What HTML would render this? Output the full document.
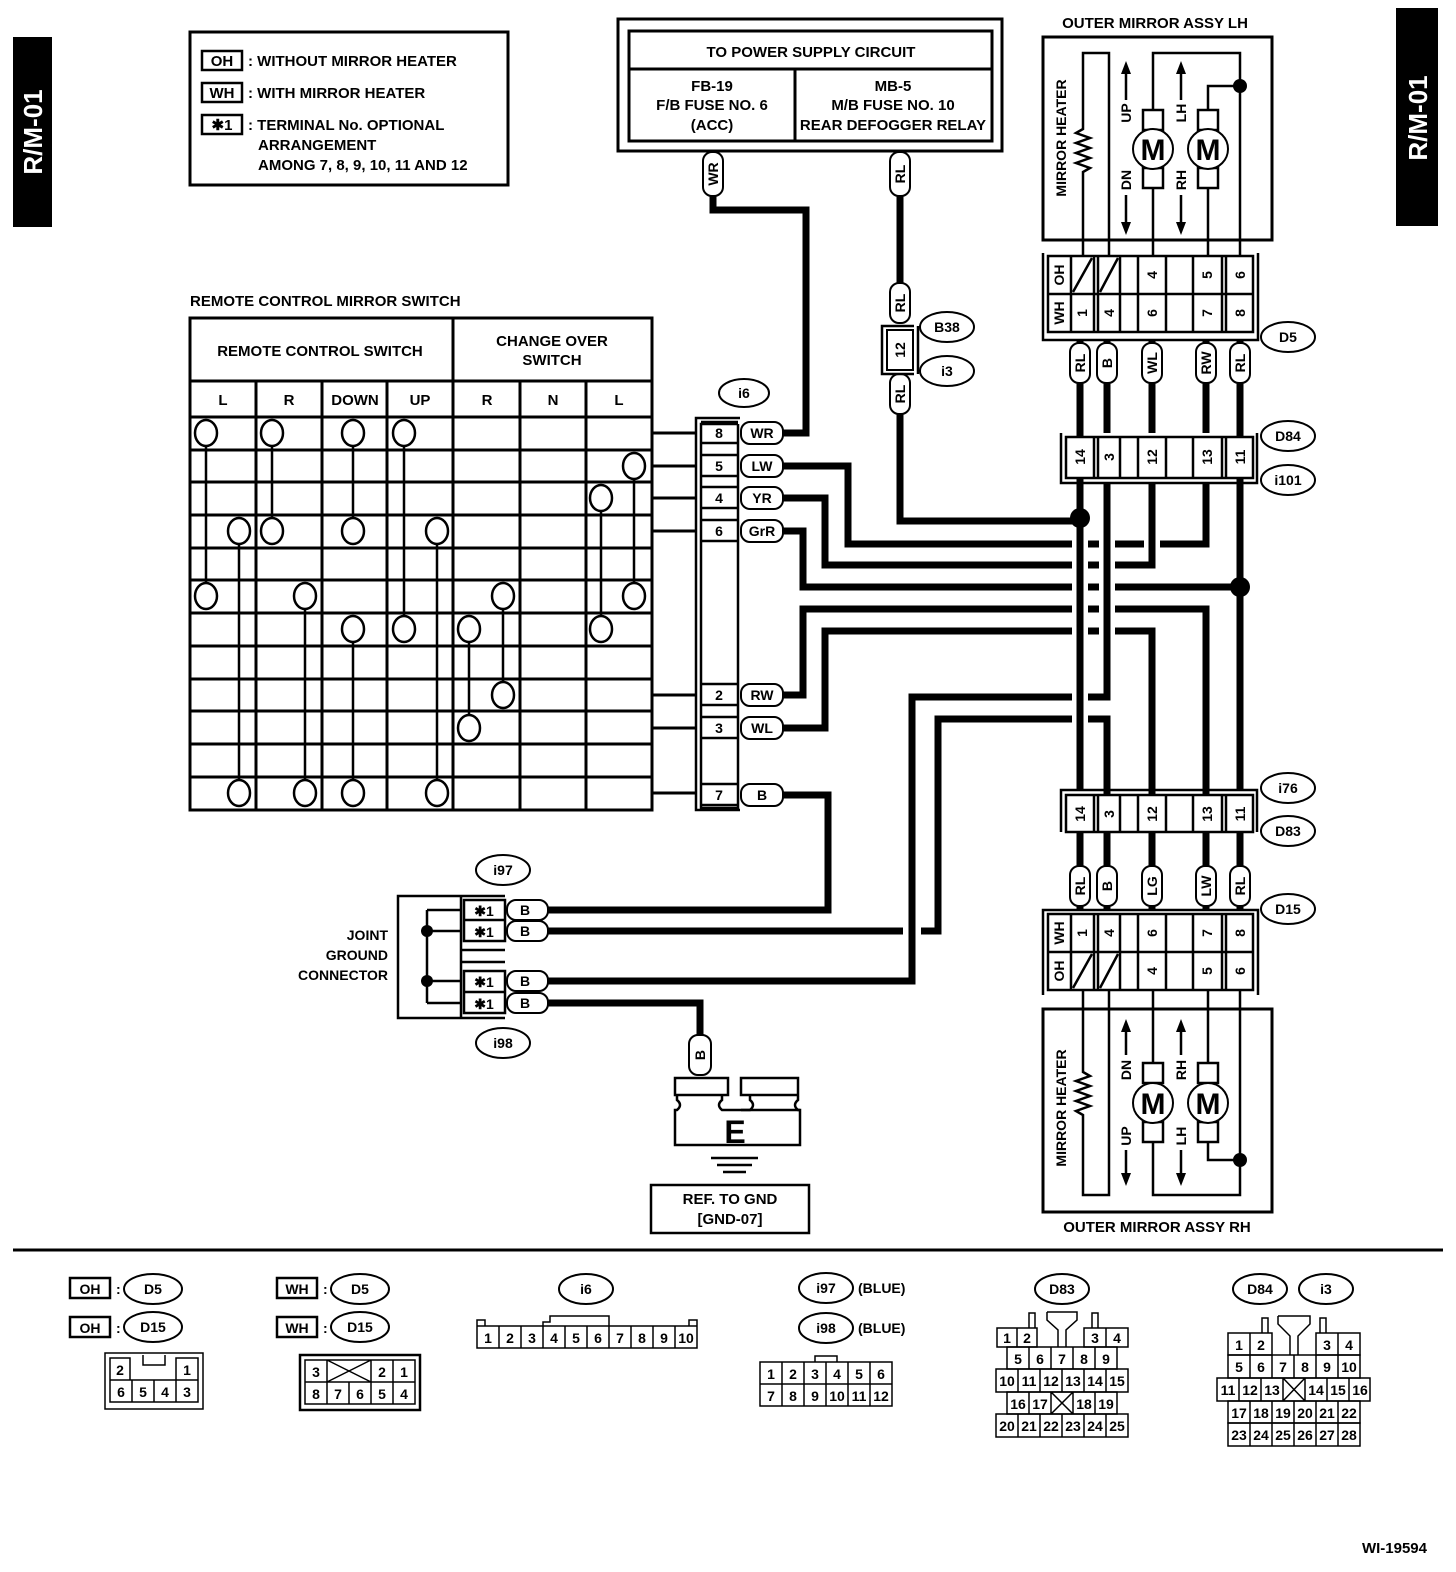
<!DOCTYPE html>
<html><head><meta charset="utf-8"><style>
html,body{margin:0;padding:0;background:#fff}
svg{display:block}
text{font-family:"Liberation Sans",Arial,sans-serif;font-weight:bold;fill:#000}
.s{stroke:#000;fill:none}
.w{fill:#fff;stroke:#000;stroke-width:2}
.c{text-anchor:middle}
</style></head><body>
<svg width="1456" height="1572" viewBox="0 0 1456 1572" xmlns="http://www.w3.org/2000/svg">
<rect width="1456" height="1572" fill="#fff"/>
<!-- side tabs -->
<rect x="13" y="37" width="39" height="190" fill="#000"/>
<text transform="translate(42,132) rotate(-90)" class="c" style="fill:#fff;font-size:26px">R/M-01</text>
<rect x="1396" y="8" width="42" height="218" fill="#000"/>
<text transform="translate(1427,118) rotate(-90)" class="c" style="fill:#fff;font-size:26px">R/M-01</text>

<!-- legend -->
<rect x="190" y="32" width="318" height="153" class="s" stroke-width="3"/>
<g font-size="15">
<rect x="202" y="51" width="40" height="19" class="s" stroke-width="2.5"/><text x="222" y="66" class="c">OH</text>
<text x="248" y="66">: WITHOUT MIRROR HEATER</text>
<rect x="202" y="83" width="40" height="19" class="s" stroke-width="2.5"/><text x="222" y="98" class="c">WH</text>
<text x="248" y="98">: WITH MIRROR HEATER</text>
<rect x="202" y="115" width="40" height="19" class="s" stroke-width="2.5"/><text x="222" y="130" class="c">✱1</text>
<text x="248" y="130">: TERMINAL No. OPTIONAL</text>
<text x="258" y="150">ARRANGEMENT</text>
<text x="258" y="170">AMONG 7, 8, 9, 10, 11 AND 12</text>
</g>

<!-- power supply box -->
<rect x="618" y="19" width="384" height="132" class="s" stroke-width="3"/>
<rect x="629" y="31" width="363" height="110" class="s" stroke-width="3"/>
<line x1="629" y1="69" x2="992" y2="69" class="s" stroke-width="3"/>
<line x1="795" y1="69" x2="795" y2="141" class="s" stroke-width="3"/>
<g font-size="15" class="c">
<text x="811" y="57" class="c">TO POWER SUPPLY CIRCUIT</text>
<text x="712" y="91" class="c">FB-19</text><text x="712" y="110" class="c">F/B FUSE NO. 6</text><text x="712" y="130" class="c">(ACC)</text>
<text x="893" y="91" class="c">MB-5</text><text x="893" y="110" class="c">M/B FUSE NO. 10</text><text x="893" y="130" class="c">REAR DEFOGGER RELAY</text>
</g>

<!-- switch table -->
<text x="190" y="306" font-size="15">REMOTE CONTROL MIRROR SWITCH</text>
<g class="s" stroke-width="3">
<rect x="190" y="318" width="462" height="492"/>
<line x1="190" y1="381" x2="652" y2="381"/><line x1="190" y1="417" x2="652" y2="417"/>
<line x1="453" y1="318" x2="453" y2="810"/>
<line x1="256" y1="381" x2="256" y2="810"/><line x1="322" y1="381" x2="322" y2="810"/><line x1="387" y1="381" x2="387" y2="810"/>
<line x1="520" y1="381" x2="520" y2="810"/><line x1="586" y1="381" x2="586" y2="810"/>
<path d="M190 450H652M190 482H652M190 515H652M190 548H652M190 580H652M190 613H652M190 646H652M190 679H652M190 711H652M190 744H652M190 777H652"/>
<path d="M652 433H696M652 466H696M652 498H696M652 531H696M652 695H696M652 728H696M652 793H696"/>
</g>
<g font-size="15">
<text x="320" y="356" class="c">REMOTE CONTROL SWITCH</text>
<text x="552" y="346" class="c">CHANGE OVER</text><text x="552" y="365" class="c">SWITCH</text>
<text x="223" y="405" class="c">L</text><text x="289" y="405" class="c">R</text><text x="355" y="405" class="c">DOWN</text><text x="420" y="405" class="c">UP</text>
<text x="487" y="405" class="c">R</text><text x="553" y="405" class="c">N</text><text x="619" y="405" class="c">L</text>
</g>
<g class="s" stroke-width="2.5">
<path d="M206 433V596M272 433V531M353 433V531M404 433V629M634 466V596M601 498V629M239 531V793M437 531V793M305 596V793M503 596V695M353 629V793M469 629V728"/>
</g>
<g fill="#fff" stroke="#000" stroke-width="2.5">
<ellipse cx="206" cy="433" rx="11" ry="13"/><ellipse cx="272" cy="433" rx="11" ry="13"/><ellipse cx="353" cy="433" rx="11" ry="13"/><ellipse cx="404" cy="433" rx="11" ry="13"/>
<ellipse cx="634" cy="466" rx="11" ry="13"/><ellipse cx="601" cy="498" rx="11" ry="13"/>
<ellipse cx="239" cy="531" rx="11" ry="13"/><ellipse cx="272" cy="531" rx="11" ry="13"/><ellipse cx="353" cy="531" rx="11" ry="13"/><ellipse cx="437" cy="531" rx="11" ry="13"/>
<ellipse cx="206" cy="596" rx="11" ry="13"/><ellipse cx="305" cy="596" rx="11" ry="13"/><ellipse cx="503" cy="596" rx="11" ry="13"/><ellipse cx="634" cy="596" rx="11" ry="13"/>
<ellipse cx="353" cy="629" rx="11" ry="13"/><ellipse cx="404" cy="629" rx="11" ry="13"/><ellipse cx="469" cy="629" rx="11" ry="13"/><ellipse cx="601" cy="629" rx="11" ry="13"/>
<ellipse cx="503" cy="695" rx="11" ry="13"/><ellipse cx="469" cy="728" rx="11" ry="13"/>
<ellipse cx="239" cy="793" rx="11" ry="13"/><ellipse cx="305" cy="793" rx="11" ry="13"/><ellipse cx="353" cy="793" rx="11" ry="13"/><ellipse cx="437" cy="793" rx="11" ry="13"/>
</g>

<!-- i6 connector -->
<g class="s" stroke-width="2.5">
<path d="M740 418H696V810H740"/><path d="M738 424H701V808H738V424"/>
<path d="M701 422H738M701 443H738M701 455H738M701 476H738M701 487H738M701 508H738M701 520H738M701 541H738M701 684H738M701 705H738M701 717H738M701 738H738M701 784H738M701 805H738"/>
</g>
<g font-size="14">
<text x="719" y="438" class="c">8</text><text x="719" y="471" class="c">5</text><text x="719" y="503" class="c">4</text><text x="719" y="536" class="c">6</text>
<text x="719" y="700" class="c">2</text><text x="719" y="733" class="c">3</text><text x="719" y="800" class="c">7</text>
</g>
<ellipse cx="744" cy="393" rx="25" ry="14" class="w" stroke-width="2.5"/><text x="744" y="398" font-size="14" class="c">i6</text>

<!-- wires -->
<g class="s" stroke-width="7" stroke-linejoin="miter" stroke-linecap="butt">
<path d="M713 195V210H806V433H780"/>
<path d="M900 195V285M900 410V521H1080"/>
<path d="M780 466H848V544H1206V483"/>
<path d="M780 498H825V565H1152V483"/>
<path d="M780 531H803V587H1240"/>
<path d="M780 695H803V609H1206V795"/>
<path d="M780 728H825V631H1152V795"/>
<path d="M1107 795V719H938V931H545"/>
<path d="M780 795H828V910H545"/>
</g>
<path d="M912 922V940" stroke="#fff" stroke-width="18"/>
<path d="M1107 483V697H912V981H545" class="s" stroke-width="7"/>
<path d="M545 1003H700V1035" class="s" stroke-width="7"/>
<g stroke="#fff" stroke-width="16">
<path d="M1080 530V725"/><path d="M1107 536V640"/><path d="M1152 537V551"/>
</g>
<g class="s" stroke-width="7">
<path d="M1080 340V790M1240 340V790M1107 340V433M1152 340V433M1206 340V433"/>
<path d="M1080 832V910M1107 832V910M1152 832V910M1206 832V910M1240 832V910"/>
<path d="M1107 483V697M1152 483V565M1206 483V544M1107 719V795M1152 631V795M1206 609V795"/>
</g>
<circle cx="1080" cy="518" r="10"/><circle cx="1240" cy="587" r="10"/>

<!-- i6 wire labels -->
<g font-size="14">
<rect x="741" y="422" width="42" height="22" rx="9" class="w"/><text x="762" y="438" class="c">WR</text>
<rect x="741" y="455" width="42" height="22" rx="9" class="w"/><text x="762" y="471" class="c">LW</text>
<rect x="741" y="487" width="42" height="22" rx="9" class="w"/><text x="762" y="503" class="c">YR</text>
<rect x="741" y="520" width="42" height="22" rx="9" class="w"/><text x="762" y="536" class="c">GrR</text>
<rect x="741" y="684" width="42" height="22" rx="9" class="w"/><text x="762" y="700" class="c">RW</text>
<rect x="741" y="717" width="42" height="22" rx="9" class="w"/><text x="762" y="733" class="c">WL</text>
<rect x="741" y="784" width="42" height="22" rx="9" class="w"/><text x="762" y="800" class="c">B</text>
</g>

<!-- vertical wire labels top -->
<g font-size="14">
<g transform="translate(713,174)"><rect x="-10" y="-22" width="20" height="44" rx="9" class="w"/><text transform="rotate(-90)" y="5" class="c">WR</text></g>
<g transform="translate(900,174)"><rect x="-10" y="-22" width="20" height="44" rx="9" class="w"/><text transform="rotate(-90)" y="5" class="c">RL</text></g>
<g transform="translate(900,303)"><rect x="-10" y="-20" width="20" height="40" rx="9" class="w"/><text transform="rotate(-90)" y="5" class="c">RL</text></g>
<g transform="translate(900,394)"><rect x="-10" y="-20" width="20" height="40" rx="9" class="w"/><text transform="rotate(-90)" y="5" class="c">RL</text></g>
</g>
<path d="M914 326H882V374H914M918 326V374" class="s" stroke-width="2.5"/>
<rect x="887" y="330" width="26" height="40" class="w" stroke-width="2.5"/>
<text transform="translate(905,350) rotate(-90)" font-size="14" class="c">12</text>
<g font-size="14">
<ellipse cx="947" cy="327" rx="27" ry="15" class="w" stroke-width="2.5"/><text x="947" y="332" class="c">B38</text>
<ellipse cx="947" cy="371" rx="27" ry="15" class="w" stroke-width="2.5"/><text x="947" y="376" class="c">i3</text>
<ellipse cx="1288" cy="337" rx="27" ry="15" class="w" stroke-width="2.5"/><text x="1288" y="342" class="c">D5</text>
<ellipse cx="1288" cy="436" rx="27" ry="15" class="w" stroke-width="2.5"/><text x="1288" y="441" class="c">D84</text>
<ellipse cx="1288" cy="480" rx="27" ry="15" class="w" stroke-width="2.5"/><text x="1288" y="485" class="c">i101</text>
<ellipse cx="1288" cy="788" rx="27" ry="15" class="w" stroke-width="2.5"/><text x="1288" y="793" class="c">i76</text>
<ellipse cx="1288" cy="831" rx="27" ry="15" class="w" stroke-width="2.5"/><text x="1288" y="836" class="c">D83</text>
<ellipse cx="1288" cy="909" rx="27" ry="15" class="w" stroke-width="2.5"/><text x="1288" y="914" class="c">D15</text>
<ellipse cx="503" cy="870" rx="27" ry="15" class="w" stroke-width="2.5"/><text x="503" y="875" class="c">i97</text>
<ellipse cx="503" cy="1043" rx="27" ry="15" class="w" stroke-width="2.5"/><text x="503" y="1048" class="c">i98</text>
</g>

<!-- Mirror LH -->
<text x="1155" y="28" font-size="15" class="c">OUTER MIRROR ASSY LH</text>
<rect x="1043" y="37" width="229" height="203" class="s" stroke-width="3"/>
<g class="s" stroke-width="2.5">
<path d="M1083 255V172L1090 168L1076 163L1090 158L1076 153L1090 148L1076 143L1090 138L1076 133L1083 129V53H1109V255"/>
<path d="M1153 255V188M1153 110V53H1240V255M1208 255V188M1208 110V86H1240"/>
<rect x="1143" y="110" width="20" height="20"/><rect x="1143" y="168" width="20" height="20"/>
<rect x="1198" y="110" width="20" height="20"/><rect x="1198" y="168" width="20" height="20"/>
<path d="M1126 100V72M1126 195V224M1181 100V72M1181 195V224"/>
</g>
<circle cx="1153" cy="149" r="20" class="w" stroke-width="2.5"/><circle cx="1208" cy="149" r="20" class="w" stroke-width="2.5"/>
<text x="1153" y="160" font-size="30" class="c">M</text><text x="1208" y="160" font-size="30" class="c">M</text>
<circle cx="1240" cy="86" r="7"/>
<path d="M1121 74L1126 61L1131 74ZM1121 222L1126 235L1131 222ZM1176 74L1181 61L1186 74ZM1176 222L1181 235L1186 222Z"/>
<g font-size="14">
<text transform="translate(1066,138) rotate(-90)" class="c">MIRROR HEATER</text>
<text transform="translate(1131,113) rotate(-90)" class="c">UP</text>
<text transform="translate(1131,180) rotate(-90)" class="c">DN</text>
<text transform="translate(1186,113) rotate(-90)" class="c">LH</text>
<text transform="translate(1186,180) rotate(-90)" class="c">RH</text>
</g>

<!-- D5 connector -->
<g class="s" stroke-width="2.5">
<path d="M1043 253V340H1258V253"/>
<rect x="1048" y="256" width="205" height="76"/>
<path d="M1048 294H1253M1071 256V332M1094 256V332M1098 256V332M1120 256V332M1138 256V332M1166 256V332M1193 256V332M1222 256V332M1226 256V332"/>
<path d="M1073 292L1092 258M1100 292L1118 258"/>
</g>
<g font-size="14">
<text transform="translate(1064,275) rotate(-90)" class="c">OH</text><text transform="translate(1064,313) rotate(-90)" class="c">WH</text>
<text transform="translate(1157,275) rotate(-90)" class="c">4</text><text transform="translate(1212,275) rotate(-90)" class="c">5</text><text transform="translate(1245,275) rotate(-90)" class="c">6</text>
<text transform="translate(1087,313) rotate(-90)" class="c">1</text><text transform="translate(1114,313) rotate(-90)" class="c">4</text><text transform="translate(1157,313) rotate(-90)" class="c">6</text><text transform="translate(1212,313) rotate(-90)" class="c">7</text><text transform="translate(1245,313) rotate(-90)" class="c">8</text>
</g>
<g font-size="14">
<g transform="translate(1080,363)"><rect x="-10" y="-20" width="20" height="40" rx="9" class="w"/><text transform="rotate(-90)" y="5" class="c">RL</text></g>
<g transform="translate(1107,363)"><rect x="-10" y="-20" width="20" height="40" rx="9" class="w"/><text transform="rotate(-90)" y="5" class="c">B</text></g>
<g transform="translate(1152,363)"><rect x="-10" y="-20" width="20" height="40" rx="9" class="w"/><text transform="rotate(-90)" y="5" class="c">WL</text></g>
<g transform="translate(1206,363)"><rect x="-10" y="-20" width="20" height="40" rx="9" class="w"/><text transform="rotate(-90)" y="5" class="c">RW</text></g>
<g transform="translate(1240,363)"><rect x="-10" y="-20" width="20" height="40" rx="9" class="w"/><text transform="rotate(-90)" y="5" class="c">RL</text></g>
</g>

<!-- D84 -->
<g class="s" stroke-width="2.5">
<path d="M1061 433V483H1257V433" />
<rect x="1066" y="437" width="187" height="41" fill="#fff"/>
<path d="M1094 437V478M1098 437V478M1120 437V478M1138 437V478M1166 437V478M1193 437V478M1222 437V478M1226 437V478"/>
</g>
<g font-size="14">
<text transform="translate(1085,457) rotate(-90)" class="c">14</text><text transform="translate(1114,457) rotate(-90)" class="c">3</text><text transform="translate(1157,457) rotate(-90)" class="c">12</text><text transform="translate(1212,457) rotate(-90)" class="c">13</text><text transform="translate(1245,457) rotate(-90)" class="c">11</text>
</g>
<!-- D83 -->
<g class="s" stroke-width="2.5">
<path d="M1061 832V790H1257V832"/>
<rect x="1066" y="795" width="187" height="37" fill="#fff"/>
<path d="M1094 795V832M1098 795V832M1120 795V832M1138 795V832M1166 795V832M1193 795V832M1222 795V832M1226 795V832"/>
</g>
<g font-size="14">
<text transform="translate(1085,814) rotate(-90)" class="c">14</text><text transform="translate(1114,814) rotate(-90)" class="c">3</text><text transform="translate(1157,814) rotate(-90)" class="c">12</text><text transform="translate(1212,814) rotate(-90)" class="c">13</text><text transform="translate(1245,814) rotate(-90)" class="c">11</text>
</g>
<g font-size="14">
<g transform="translate(1080,886)"><rect x="-10" y="-20" width="20" height="40" rx="9" class="w"/><text transform="rotate(-90)" y="5" class="c">RL</text></g>
<g transform="translate(1107,886)"><rect x="-10" y="-20" width="20" height="40" rx="9" class="w"/><text transform="rotate(-90)" y="5" class="c">B</text></g>
<g transform="translate(1152,886)"><rect x="-10" y="-20" width="20" height="40" rx="9" class="w"/><text transform="rotate(-90)" y="5" class="c">LG</text></g>
<g transform="translate(1206,886)"><rect x="-10" y="-20" width="20" height="40" rx="9" class="w"/><text transform="rotate(-90)" y="5" class="c">LW</text></g>
<g transform="translate(1240,886)"><rect x="-10" y="-20" width="20" height="40" rx="9" class="w"/><text transform="rotate(-90)" y="5" class="c">RL</text></g>
</g>

<!-- D15 -->
<g class="s" stroke-width="2.5">
<path d="M1043 995V910H1258V995"/>
<rect x="1048" y="914" width="205" height="76" fill="#fff"/>
<path d="M1048 952H1253M1071 914V990M1094 914V990M1098 914V990M1120 914V990M1138 914V990M1166 914V990M1193 914V990M1222 914V990M1226 914V990"/>
<path d="M1073 988L1092 954M1100 988L1118 954"/>
</g>
<g font-size="14">
<text transform="translate(1064,933) rotate(-90)" class="c">WH</text><text transform="translate(1064,971) rotate(-90)" class="c">OH</text>
<text transform="translate(1087,933) rotate(-90)" class="c">1</text><text transform="translate(1114,933) rotate(-90)" class="c">4</text><text transform="translate(1157,933) rotate(-90)" class="c">6</text><text transform="translate(1212,933) rotate(-90)" class="c">7</text><text transform="translate(1245,933) rotate(-90)" class="c">8</text>
<text transform="translate(1157,971) rotate(-90)" class="c">4</text><text transform="translate(1212,971) rotate(-90)" class="c">5</text><text transform="translate(1245,971) rotate(-90)" class="c">6</text>
</g>

<!-- Mirror RH -->
<rect x="1043" y="1009" width="229" height="203" class="s" stroke-width="3"/>
<g class="s" stroke-width="2.5">
<path d="M1083 990V1072L1090 1076L1076 1081L1090 1086L1076 1091L1090 1096L1076 1101L1090 1106L1076 1111L1083 1115V1195H1109V990"/>
<path d="M1153 990V1063M1153 1142V1195H1240V990M1208 990V1063M1208 1142V1160H1240"/>
<rect x="1143" y="1063" width="20" height="20"/><rect x="1143" y="1122" width="20" height="20"/>
<rect x="1198" y="1063" width="20" height="20"/><rect x="1198" y="1122" width="20" height="20"/>
<path d="M1126 1055V1030M1126 1150V1175M1181 1055V1030M1181 1150V1175"/>
</g>
<circle cx="1153" cy="1103" r="20" class="w" stroke-width="2.5"/><circle cx="1208" cy="1103" r="20" class="w" stroke-width="2.5"/>
<text x="1153" y="1114" font-size="30" class="c">M</text><text x="1208" y="1114" font-size="30" class="c">M</text>
<circle cx="1240" cy="1160" r="7"/>
<path d="M1121 1032L1126 1019L1131 1032ZM1121 1173L1126 1186L1131 1173ZM1176 1032L1181 1019L1186 1032ZM1176 1173L1181 1186L1186 1173Z"/>
<g font-size="14">
<text transform="translate(1066,1108) rotate(-90)" class="c">MIRROR HEATER</text>
<text transform="translate(1131,1070) rotate(-90)" class="c">DN</text>
<text transform="translate(1131,1136) rotate(-90)" class="c">UP</text>
<text transform="translate(1186,1070) rotate(-90)" class="c">RH</text>
<text transform="translate(1186,1136) rotate(-90)" class="c">LH</text>
</g>
<text x="1157" y="1232" font-size="15" class="c">OUTER MIRROR ASSY RH</text>

<!-- joint ground connector -->
<g class="s" stroke-width="2.5">
<path d="M505 896H398V1018H505"/>
<path d="M461 896V1018"/>
<path d="M427 910H461M427 931H461M427 981H461M427 1003H461M427 910V1003"/>
<rect x="464" y="900" width="41" height="41"/><line x1="464" y1="920" x2="505" y2="920"/>
<rect x="464" y="971" width="41" height="42"/><line x1="464" y1="992" x2="505" y2="992"/>
<path d="M461 950H505M461 962H505"/>
</g>
<circle cx="427" cy="931" r="6"/><circle cx="427" cy="981" r="6"/>
<g font-size="14">
<text x="484" y="916" class="c">✱1</text><text x="484" y="937" class="c">✱1</text><text x="484" y="987" class="c">✱1</text><text x="484" y="1009" class="c">✱1</text>
<rect x="507" y="900" width="41" height="20" rx="9" class="w"/><text x="525" y="915" class="c">B</text>
<rect x="507" y="921" width="41" height="20" rx="9" class="w"/><text x="525" y="936" class="c">B</text>
<rect x="507" y="971" width="41" height="20" rx="9" class="w"/><text x="525" y="986" class="c">B</text>
<rect x="507" y="993" width="41" height="20" rx="9" class="w"/><text x="525" y="1008" class="c">B</text>
<text x="388" y="940" text-anchor="end">JOINT</text><text x="388" y="960" text-anchor="end">GROUND</text><text x="388" y="980" text-anchor="end">CONNECTOR</text>
</g>

<!-- ground -->
<g font-size="14"><g transform="translate(700,1055)"><rect x="-11" y="-20" width="22" height="40" rx="9" class="w"/><text transform="rotate(-90)" y="5" class="c">B</text></g></g>
<g class="s" stroke-width="2.5" fill="#fff">
<rect x="675" y="1078" width="53" height="17" fill="#fff"/><rect x="741" y="1078" width="57" height="17" fill="#fff"/>
<path d="M677 1096V1100Q683 1105 677 1110H675V1145H800V1110H798Q792 1105 798 1100V1096M722 1096V1100Q716 1105 722 1110H750Q756 1105 750 1100V1096"/>
<path d="M741 1110H800"/>
</g>
<text x="735" y="1143" font-size="32" class="c">E</text>
<path d="M711 1158H758M717 1165H752M723 1172H746" class="s" stroke-width="2.5"/>
<rect x="651" y="1185" width="158" height="48" class="s" stroke-width="2.5"/>
<text x="730" y="1204" font-size="15" class="c">REF. TO GND</text><text x="730" y="1224" font-size="15" class="c">[GND-07]</text>

<line x1="13" y1="1250" x2="1443" y2="1250" stroke="#000" stroke-width="3"/>

<!-- bottom connector views -->
<g font-size="14">
<rect x="70" y="1278" width="40" height="20" class="s" stroke-width="2.5"/><text x="90" y="1294" class="c">OH</text><text x="116" y="1294">:</text>
<ellipse cx="153" cy="1289" rx="29" ry="15" class="w" stroke-width="2.5"/><text x="153" y="1294" class="c">D5</text>
<rect x="70" y="1317" width="40" height="20" class="s" stroke-width="2.5"/><text x="90" y="1333" class="c">OH</text><text x="116" y="1333">:</text>
<ellipse cx="153" cy="1327" rx="29" ry="15" class="w" stroke-width="2.5"/><text x="153" y="1332" class="c">D15</text>
<rect x="277" y="1278" width="40" height="20" class="s" stroke-width="2.5"/><text x="297" y="1294" class="c">WH</text><text x="323" y="1294">:</text>
<ellipse cx="360" cy="1289" rx="29" ry="15" class="w" stroke-width="2.5"/><text x="360" y="1294" class="c">D5</text>
<rect x="277" y="1317" width="40" height="20" class="s" stroke-width="2.5"/><text x="297" y="1333" class="c">WH</text><text x="323" y="1333">:</text>
<ellipse cx="360" cy="1327" rx="29" ry="15" class="w" stroke-width="2.5"/><text x="360" y="1332" class="c">D15</text>
<ellipse cx="586" cy="1289" rx="27" ry="15" class="w" stroke-width="2.5"/><text x="586" y="1294" class="c">i6</text>
<ellipse cx="826" cy="1288" rx="27" ry="15" class="w" stroke-width="2.5"/><text x="826" y="1293" class="c">i97</text><text x="858" y="1293">(BLUE)</text>
<ellipse cx="826" cy="1328" rx="27" ry="15" class="w" stroke-width="2.5"/><text x="826" y="1333" class="c">i98</text><text x="858" y="1333">(BLUE)</text>
<ellipse cx="1062" cy="1289" rx="27" ry="15" class="w" stroke-width="2.5"/><text x="1062" y="1294" class="c">D83</text>
<ellipse cx="1260" cy="1289" rx="27" ry="15" class="w" stroke-width="2.5"/><text x="1260" y="1294" class="c">D84</text>
<ellipse cx="1326" cy="1289" rx="27" ry="15" class="w" stroke-width="2.5"/><text x="1326" y="1294" class="c">i3</text>
</g>
<g class="s" stroke-width="1.5" fill="none">
<rect x="105" y="1353" width="98" height="56"/>
<path d="M110 1358H130V1380H110ZM176 1358H198V1380H176ZM143 1355V1365H165V1355M110 1380H198V1402H110ZM132 1380V1402M154 1380V1402M176 1380V1402"/>
<rect x="300" y="1355" width="120" height="55" stroke-width="2.5"/>
<path d="M305 1360H415V1404H305ZM305 1382H415M327 1360V1404M371 1360V1382M393 1360V1404M349 1382V1404M327 1360L371 1382M371 1360L327 1382"/>
<path d="M371 1382V1404"/>
<path d="M477 1326H697V1348H477ZM499 1326V1348M521 1326V1348M543 1326V1348M565 1326V1348M587 1326V1348M609 1326V1348M631 1326V1348M653 1326V1348M675 1326V1348M477 1326V1320H485V1326M689 1326V1320H697V1326M543 1326V1322H550V1316H609V1326"/>
<path d="M760 1362H892V1406H760ZM760 1384H892M782 1362V1406M804 1362V1406M826 1362V1406M848 1362V1406M870 1362V1406M815 1362V1356H837V1362"/>
<path d="M997 1328H1037V1347H997ZM1017 1328V1347M1084 1328H1128V1347H1084ZM1106 1328V1347M1029 1328V1313H1035V1328M1092 1328V1313H1098V1328M1047 1312H1077V1320L1066 1330V1347M1047 1312V1320L1058 1330V1347"/>
<path d="M1007 1347H1117V1369H1007ZM1029 1347V1369M1051 1347V1369M1073 1347V1369M1095 1347V1369"/>
<path d="M996 1369H1128V1392H996ZM1018 1369V1392M1040 1369V1392M1062 1369V1392M1084 1369V1392M1106 1369V1392"/>
<path d="M1007 1392H1117V1414H1007ZM1029 1392V1414M1051 1392V1414M1073 1392V1414M1095 1392V1414M1051 1392L1073 1414M1073 1392L1051 1414"/>
<path d="M996 1414H1128V1437H996ZM1018 1414V1437M1040 1414V1437M1062 1414V1437M1084 1414V1437M1106 1414V1437"/>
<path d="M1228 1333H1272V1355H1228ZM1250 1333V1355M1316 1333H1360V1355H1316ZM1338 1333V1355M1262 1333V1318H1268V1333M1320 1333V1318H1326V1333M1278 1316H1310V1324L1298 1336V1355M1278 1316V1324L1290 1336V1355"/>
<path d="M1228 1355H1360V1378H1228ZM1250 1355V1378M1272 1355V1378M1294 1355V1378M1316 1355V1378M1338 1355V1378"/>
<path d="M1217 1378H1370V1401H1217ZM1239 1378V1401M1261 1378V1401M1283 1378V1401M1305 1378V1401M1327 1378V1401M1349 1378V1401M1283 1378L1305 1401M1305 1378L1283 1401"/>
<path d="M1228 1401H1360V1423H1228ZM1250 1401V1423M1272 1401V1423M1294 1401V1423M1316 1401V1423M1338 1401V1423"/>
<path d="M1228 1423H1360V1446H1228ZM1250 1423V1446M1272 1423V1446M1294 1423V1446M1316 1423V1446M1338 1423V1446"/>
</g>
<g font-size="14" font-weight="normal">
<text x="120" y="1375" class="c" font-weight="normal">2</text><text x="187" y="1375" class="c" font-weight="normal">1</text>
<text x="121" y="1397" class="c" font-weight="normal">6</text><text x="143" y="1397" class="c" font-weight="normal">5</text><text x="165" y="1397" class="c" font-weight="normal">4</text><text x="187" y="1397" class="c" font-weight="normal">3</text>
<text x="316" y="1377" class="c" font-weight="normal">3</text><text x="382" y="1377" class="c" font-weight="normal">2</text><text x="404" y="1377" class="c" font-weight="normal">1</text>
<text x="316" y="1399" class="c" font-weight="normal">8</text><text x="338" y="1399" class="c" font-weight="normal">7</text><text x="360" y="1399" class="c" font-weight="normal">6</text><text x="382" y="1399" class="c" font-weight="normal">5</text><text x="404" y="1399" class="c" font-weight="normal">4</text>
<text x="488" y="1343" class="c" font-weight="normal">1</text><text x="510" y="1343" class="c" font-weight="normal">2</text><text x="532" y="1343" class="c" font-weight="normal">3</text><text x="554" y="1343" class="c" font-weight="normal">4</text><text x="576" y="1343" class="c" font-weight="normal">5</text><text x="598" y="1343" class="c" font-weight="normal">6</text><text x="620" y="1343" class="c" font-weight="normal">7</text><text x="642" y="1343" class="c" font-weight="normal">8</text><text x="664" y="1343" class="c" font-weight="normal">9</text><text x="686" y="1343" class="c" font-weight="normal">10</text>
<text x="771" y="1379" class="c" font-weight="normal">1</text><text x="793" y="1379" class="c" font-weight="normal">2</text><text x="815" y="1379" class="c" font-weight="normal">3</text><text x="837" y="1379" class="c" font-weight="normal">4</text><text x="859" y="1379" class="c" font-weight="normal">5</text><text x="881" y="1379" class="c" font-weight="normal">6</text>
<text x="771" y="1401" class="c" font-weight="normal">7</text><text x="793" y="1401" class="c" font-weight="normal">8</text><text x="815" y="1401" class="c" font-weight="normal">9</text><text x="837" y="1401" class="c" font-weight="normal">10</text><text x="859" y="1401" class="c" font-weight="normal">11</text><text x="881" y="1401" class="c" font-weight="normal">12</text>
<text x="1007" y="1343" class="c" font-weight="normal">1</text><text x="1027" y="1343" class="c" font-weight="normal">2</text><text x="1095" y="1343" class="c" font-weight="normal">3</text><text x="1117" y="1343" class="c" font-weight="normal">4</text>
<text x="1018" y="1364" class="c" font-weight="normal">5</text><text x="1040" y="1364" class="c" font-weight="normal">6</text><text x="1062" y="1364" class="c" font-weight="normal">7</text><text x="1084" y="1364" class="c" font-weight="normal">8</text><text x="1106" y="1364" class="c" font-weight="normal">9</text>
<text x="1007" y="1386" class="c" font-weight="normal">10</text><text x="1029" y="1386" class="c" font-weight="normal">11</text><text x="1051" y="1386" class="c" font-weight="normal">12</text><text x="1073" y="1386" class="c" font-weight="normal">13</text><text x="1095" y="1386" class="c" font-weight="normal">14</text><text x="1117" y="1386" class="c" font-weight="normal">15</text>
<text x="1018" y="1409" class="c" font-weight="normal">16</text><text x="1040" y="1409" class="c" font-weight="normal">17</text><text x="1084" y="1409" class="c" font-weight="normal">18</text><text x="1106" y="1409" class="c" font-weight="normal">19</text>
<text x="1007" y="1431" class="c" font-weight="normal">20</text><text x="1029" y="1431" class="c" font-weight="normal">21</text><text x="1051" y="1431" class="c" font-weight="normal">22</text><text x="1073" y="1431" class="c" font-weight="normal">23</text><text x="1095" y="1431" class="c" font-weight="normal">24</text><text x="1117" y="1431" class="c" font-weight="normal">25</text>
<text x="1239" y="1350" class="c" font-weight="normal">1</text><text x="1261" y="1350" class="c" font-weight="normal">2</text><text x="1327" y="1350" class="c" font-weight="normal">3</text><text x="1349" y="1350" class="c" font-weight="normal">4</text>
<text x="1239" y="1372" class="c" font-weight="normal">5</text><text x="1261" y="1372" class="c" font-weight="normal">6</text><text x="1283" y="1372" class="c" font-weight="normal">7</text><text x="1305" y="1372" class="c" font-weight="normal">8</text><text x="1327" y="1372" class="c" font-weight="normal">9</text><text x="1349" y="1372" class="c" font-weight="normal">10</text>
<text x="1228" y="1395" class="c" font-weight="normal">11</text><text x="1250" y="1395" class="c" font-weight="normal">12</text><text x="1272" y="1395" class="c" font-weight="normal">13</text><text x="1316" y="1395" class="c" font-weight="normal">14</text><text x="1338" y="1395" class="c" font-weight="normal">15</text><text x="1360" y="1395" class="c" font-weight="normal">16</text>
<text x="1239" y="1418" class="c" font-weight="normal">17</text><text x="1261" y="1418" class="c" font-weight="normal">18</text><text x="1283" y="1418" class="c" font-weight="normal">19</text><text x="1305" y="1418" class="c" font-weight="normal">20</text><text x="1327" y="1418" class="c" font-weight="normal">21</text><text x="1349" y="1418" class="c" font-weight="normal">22</text>
<text x="1239" y="1440" class="c" font-weight="normal">23</text><text x="1261" y="1440" class="c" font-weight="normal">24</text><text x="1283" y="1440" class="c" font-weight="normal">25</text><text x="1305" y="1440" class="c" font-weight="normal">26</text><text x="1327" y="1440" class="c" font-weight="normal">27</text><text x="1349" y="1440" class="c" font-weight="normal">28</text>
</g>
<text x="1427" y="1553" font-size="15" text-anchor="end" font-weight="normal">WI-19594</text>
</svg>
</body></html>
